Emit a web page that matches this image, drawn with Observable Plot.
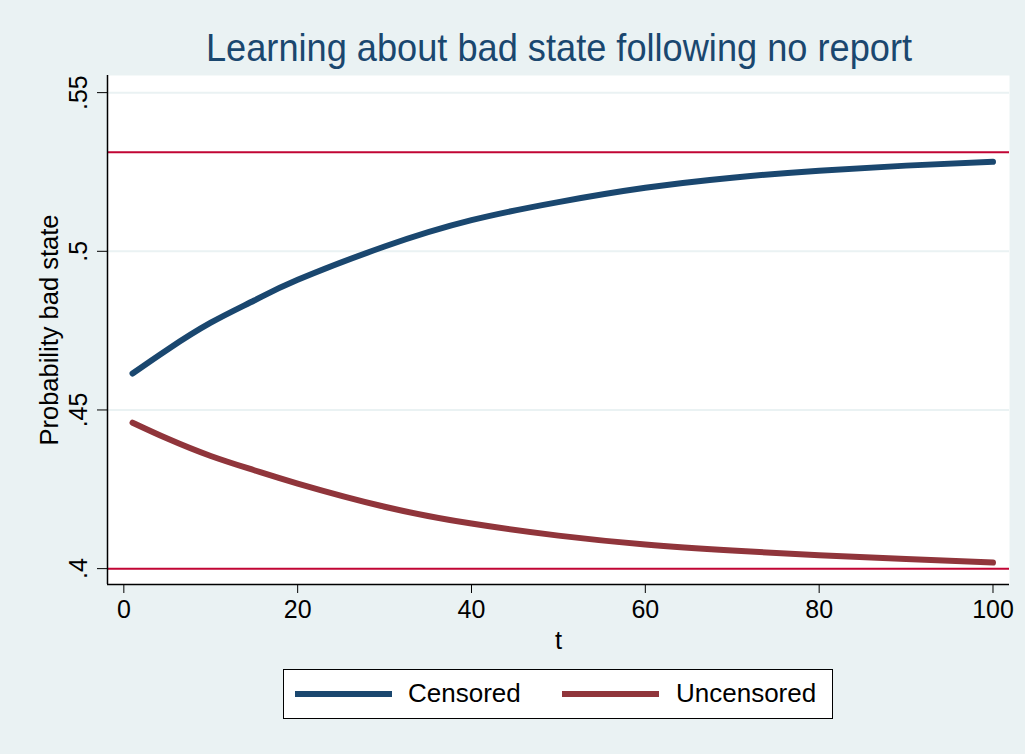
<!DOCTYPE html>
<html>
<head>
<meta charset="utf-8">
<script src="https://cdn.jsdelivr.net/npm/d3@7"></script>
<script src="https://cdn.jsdelivr.net/npm/@observablehq/plot@0.6"></script>
<style>
  html, body { margin: 0; padding: 0; background: #eaf2f3; }
  #page { position: relative; width: 1025px; height: 754px; background: #eaf2f3; overflow: hidden;
          font-family: "Liberation Sans", Arial, Helvetica, sans-serif; }
  #title { position: absolute; left: 0; top: 0; }
  #chart { position: absolute; left: 0; top: 0; }
  #legend { position: absolute; left: 283px; top: 669px; width: 548px; height: 48px;
            background: #fff; border: 1px solid #000; }
  .sw { position: absolute; top: 21px; width: 97px; height: 6px; }
  .lt { position: absolute; top: 8px; font-size: 26px; line-height: 30px; color: #000; }
</style>
</head>
<body>
<div id="page">
  <svg id="title" width="1025" height="80">
    <text id="titleText" x="559" y="61" text-anchor="middle" fill="#1a476f"
          font-family="Liberation Sans, Arial, sans-serif" font-size="39"
          textLength="706" lengthAdjust="spacingAndGlyphs"></text>
  </svg>
  <div id="chart"></div>
  <div id="legend"></div>
</div>
<script>
// ---- data ----
const titleLabel = "Learning about bad state following no report";
const yLabel = "Probability bad state";
const xLabel = "t";
const seriesNames = ["Censored", "Uncensored"];
const seriesColors = ["#1a476f", "#90353b"];
const t = [1, 5, 10, 15, 20, 30, 40, 50, 60, 70, 80, 90, 100];
const censored   = [0.4615, 0.4690, 0.4775, 0.4845, 0.4910, 0.5015, 0.5098, 0.5155, 0.5200, 0.5232, 0.5254, 0.5270, 0.5282];
const uncensored = [0.4460, 0.4410, 0.4355, 0.4310, 0.4268, 0.4195, 0.4142, 0.4104, 0.4076, 0.4057, 0.4042, 0.4030, 0.4019];
const refLines = [0.5312, 0.4];
const yTicks = [0.4, 0.45, 0.5, 0.55];
const yTickLabels = [".4", ".45", ".5", ".55"];
const yGrid = [0.45, 0.5, 0.55];
const xTicks = [0, 20, 40, 60, 80, 100];
const xDomain = [-1.88, 101.9];
const yDomain = [0.395, 0.5554];

document.getElementById("titleText").textContent = titleLabel;

const data = [];
t.forEach((tv, i) => {
  data.push({t: tv, p: censored[i], series: seriesNames[0]});
  data.push({t: tv, p: uncensored[i], series: seriesNames[1]});
});
const yTickData = yTicks.map((v, i) => ({v, label: yTickLabels[i]}));

const chart = Plot.plot({
  width: 1025,
  height: 660,
  marginLeft: 107,
  marginRight: 16,
  marginTop: 75,
  marginBottom: 76,
  style: {background: "transparent", fontFamily: "Liberation Sans, Arial, sans-serif", fontSize: "25px", color: "#000"},
  x: {domain: xDomain},
  y: {domain: yDomain},
  color: {domain: seriesNames, range: seriesColors},
  marks: [
    Plot.frame({fill: "white", stroke: null}),
    Plot.ruleY(yGrid, {stroke: "#eaf2f3", strokeWidth: 2}),
    Plot.ruleY(refLines, {stroke: "#c10534", strokeWidth: 2}),
    Plot.line(data, {x: "t", y: "p", z: "series", stroke: "series", strokeWidth: 6, curve: "natural"}),
    Plot.ruleX([xDomain[0]], {stroke: "#000", strokeWidth: 1.5}),
    Plot.ruleY([yDomain[0]], {stroke: "#000", strokeWidth: 1.5}),
    Plot.axisX({ticks: xTicks, tickSize: 9, tickPadding: 7, tickFormat: d => String(d), label: null, fontSize: 25, stroke: "#000"}),
    Plot.axisY({ticks: yTicks, tickSize: 10, tickFormat: () => "", label: null, stroke: "#000"}),
    Plot.text(yTickData, {x: xDomain[0], y: "v", text: "label", rotate: -90, textAnchor: "middle", lineAnchor: "bottom", dx: -21, fontSize: 25, fill: "#000"}),
    Plot.text([yLabel], {frameAnchor: "left", text: d => d, rotate: -90, textAnchor: "middle", lineAnchor: "bottom", dx: -50, fontSize: 25.5, fill: "#000"}),
    Plot.text([xLabel], {frameAnchor: "bottom", text: d => d, lineAnchor: "bottom", dy: 64, fontSize: 25.5, fill: "#000"})
  ]
});
document.getElementById("chart").appendChild(chart);

// legend
const legend = document.getElementById("legend");
const swX = [11, 278];
const txX = [124, 392];
seriesNames.forEach((name, i) => {
  const sw = document.createElement("div");
  sw.className = "sw";
  sw.style.left = swX[i] + "px";
  sw.style.background = seriesColors[i];
  legend.appendChild(sw);
  const tx = document.createElement("div");
  tx.className = "lt";
  tx.style.left = txX[i] + "px";
  tx.textContent = name;
  legend.appendChild(tx);
});
</script>
</body>
</html>
